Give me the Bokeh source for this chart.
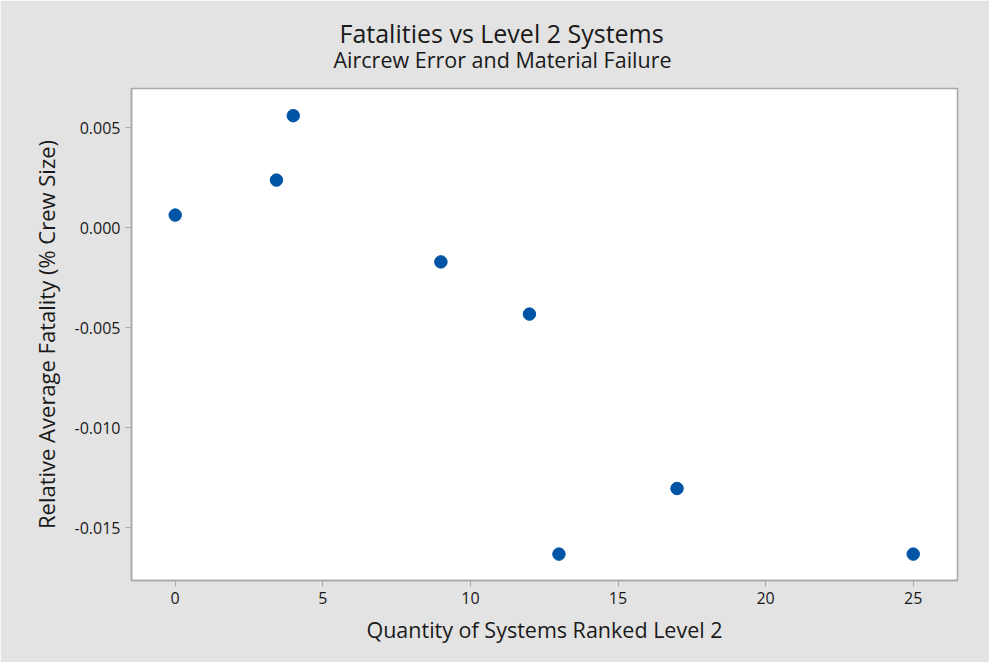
from bokeh.plotting import figure
from bokeh.models import Range1d, FixedTicker, NumeralTickFormatter, Title
from bokeh.embed import file_html
from bokeh.resources import INLINE

# Data
systems = [0, 3.43, 4, 9, 12, 13, 17, 25]
fatality = [0.00062, 0.00237, 0.00559, -0.00172, -0.00433, -0.01633, -0.01305, -0.01633]
x_ticks = [0, 5, 10, 15, 20, 25]
y_ticks = [-0.015, -0.010, -0.005, 0.0, 0.005]

title_text = "Fatalities vs Level 2 Systems"
subtitle_text = "Aircrew Error and Material Failure"
x_label = "Quantity of Systems Ranked Level 2"
y_label = "Relative Average Fatality (% Crew Size)"

FONT = "Open Sans"
TXT = "#1a1a1a"
GRAY = "#e3e3e3"
AX = "#a8a8a8"

p = figure(width=989, height=662, output_backend="svg", toolbar_location=None,
           x_range=Range1d(-1.48, 26.5), y_range=Range1d(-0.01765, 0.00695),
           min_border_left=131, min_border_right=32, min_border_top=88, min_border_bottom=82)
p.border_fill_color = GRAY
p.background_fill_color = "white"
p.outline_line_color = AX
p.outline_line_width = 1.5
p.xgrid.visible = False
p.ygrid.visible = False

p.scatter(systems, fatality, size=12.5, marker="circle", fill_color="#0054A6", line_color="#0054A6")

for ax in (p.xaxis[0], p.yaxis[0]):
    ax.axis_line_color = AX
    ax.axis_line_width = 1.5
    ax.major_tick_line_color = AX
    ax.major_tick_out = 6
    ax.major_tick_in = 0
    ax.minor_tick_line_color = None
    ax.major_label_text_font = FONT
    ax.major_label_text_font_size = "16px"
    ax.major_label_text_color = TXT
    ax.axis_label_text_font = FONT
    ax.axis_label_text_font_style = "normal"
    ax.axis_label_text_color = TXT
    ax.major_label_standoff = 5

p.xaxis[0].axis_label_text_font_size = "21.5px"
p.yaxis[0].axis_label_text_font_size = "22px"
p.xaxis[0].ticker = FixedTicker(ticks=x_ticks)
p.yaxis[0].ticker = FixedTicker(ticks=y_ticks)
p.yaxis[0].formatter = NumeralTickFormatter(format="0.000")
p.xaxis[0].axis_label = x_label
p.yaxis[0].axis_label = y_label
p.xaxis[0].axis_label_standoff = 8
p.yaxis[0].axis_label_standoff = 11

p.add_layout(Title(text=subtitle_text, text_font=FONT, text_font_size="21.5px", text_font_style="normal",
                   text_color=TXT, align="left", offset=202, standoff=29), "above")
p.add_layout(Title(text=title_text, text_font=FONT, text_font_size="25px", text_font_style="normal",
                   text_color=TXT, align="left", offset=208, standoff=-42), "above")

open("out.html", "w").write(file_html(p, INLINE))
